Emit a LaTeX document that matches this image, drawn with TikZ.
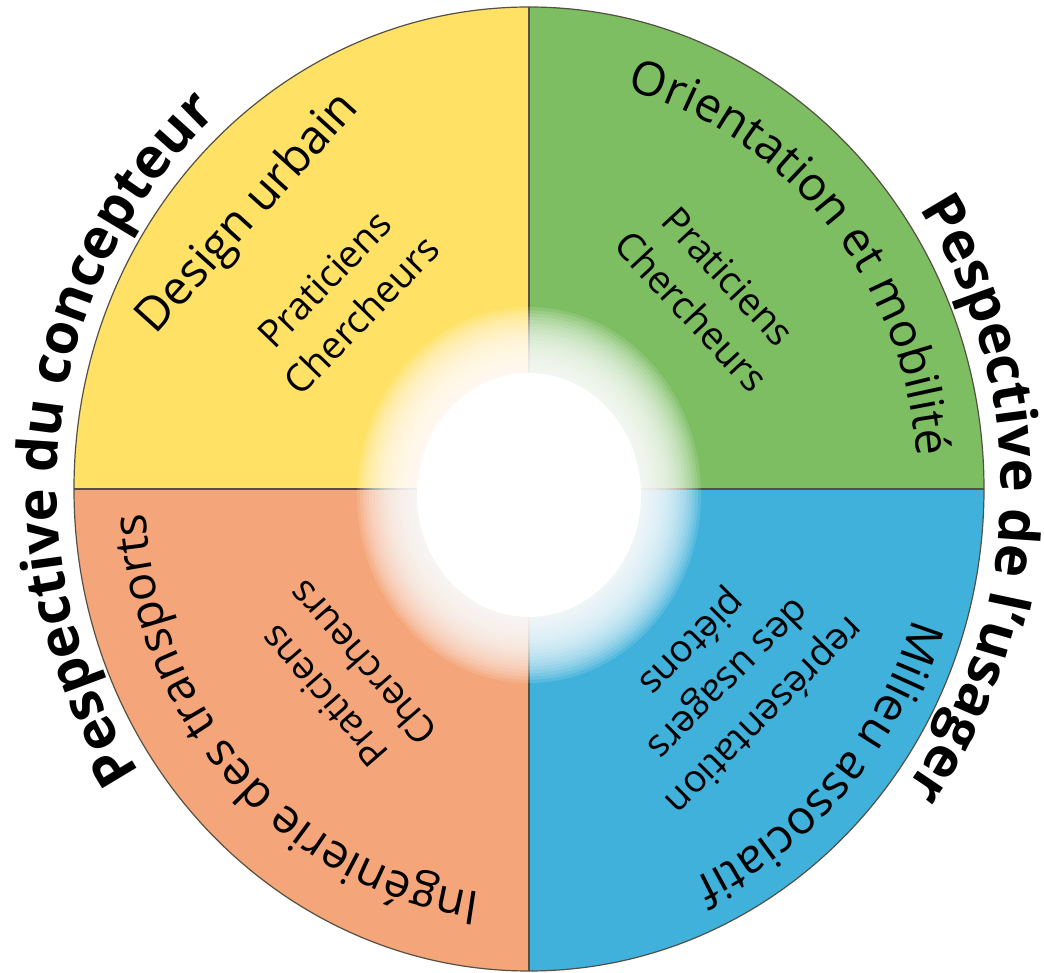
\documentclass[tikz,border=0pt]{standalone}
\usepackage{fontspec}
\setmainfont{Open Sans}
\usetikzlibrary{decorations.text}

\definecolor{yellowq}{RGB}{255,225,102}
\definecolor{greenq}{RGB}{125,190,98}
\definecolor{orangeq}{RGB}{244,166,122}
\definecolor{blueq}{RGB}{64,177,218}
\definecolor{rimline}{RGB}{85,80,65}

\newcommand\outerfont{\fontsize{56}{60}\selectfont\bfseries}
\newcommand\titlefont{\fontsize{47}{50}\selectfont}

\begin{document}
\begin{tikzpicture}[x=1pt,y=1pt,
        who/.style={font=\fontsize{38}{51}\selectfont,align=center,inner sep=0pt},
        arctext/.style={decorate,decoration={text along path,text align=center,text={#1}}}]
        \fill[white] (-529,-484) rectangle (515,489);
        \useasboundingbox (-529,-484) rectangle (515,489);
        \begin{scope}
            \clip (0,0) ellipse [x radius=455, y radius=482];
            \fill[yellowq] (-460,0) rectangle (0,490);
            \fill[greenq] (0,0) rectangle (460,490);
            \fill[orangeq] (-460,-490) rectangle (0,0);
            \fill[blueq] (0,-490) rectangle (460,0);
        \end{scope}
        \draw[rimline,line width=1.2pt] (0,-482) -- (0,482);
        \draw[rimline,line width=1.2pt] (-455,0) -- (455,0);
        \draw[rimline,line width=1.2pt] (0,0) ellipse [x radius=455, y radius=482];
        % white glow in the middle
        \coordinate (glow) at (0,-6);
        \foreach \k in {0,...,19}
            \fill[white,opacity=0.12] (glow) ellipse [x radius={172-3*\k}, y radius={188-3.3*\k}];
        \fill[white] (glow) ellipse [x radius=112, y radius=122];
        % outer labels
        \path[arctext={|\outerfont|Pespective du concepteur}] (257.7:472 and 499) arc[start angle=257.7, end angle=87.7, x radius=472, y radius=499];
        \path[arctext={|\outerfont|Pespective de l’usager}] (83.6:472 and 499) arc[start angle=83.6, end angle=-86.4, x radius=472, y radius=499];
        % quadrant titles
        \node[rotate=48,font=\titlefont] (design) at (-280,275) {Design urbain};
        \path[arctext={|\titlefont|Orientation et mobilité}] (121:389 and 412) arc[start angle=121, end angle=-39, x radius=389, y radius=412];
        \path[arctext={|\titlefont|Milieu associatif}] (37:403 and 427) arc[start angle=37, end angle=-123, x radius=403, y radius=427];
        \path[arctext={|\titlefont|Ingénierie des transports}] (304:384 and 407) arc[start angle=304, end angle=144, x radius=384, y radius=407];
        \node[who,rotate=46] (yellowwho) at (-186,192) {Praticiens\\Chercheurs};
        \node[who,rotate=-47] (greenwho) at (181,195) {Praticiens\\Chercheurs};
        \node[who,rotate=131] (orangewho) at (-186,-191) {Praticiens\\Chercheurs};
        \node[who,rotate=225] (bluewho) at (198,-189) {représentation\\des usagers\\piétons};
\end{tikzpicture}
\end{document}
